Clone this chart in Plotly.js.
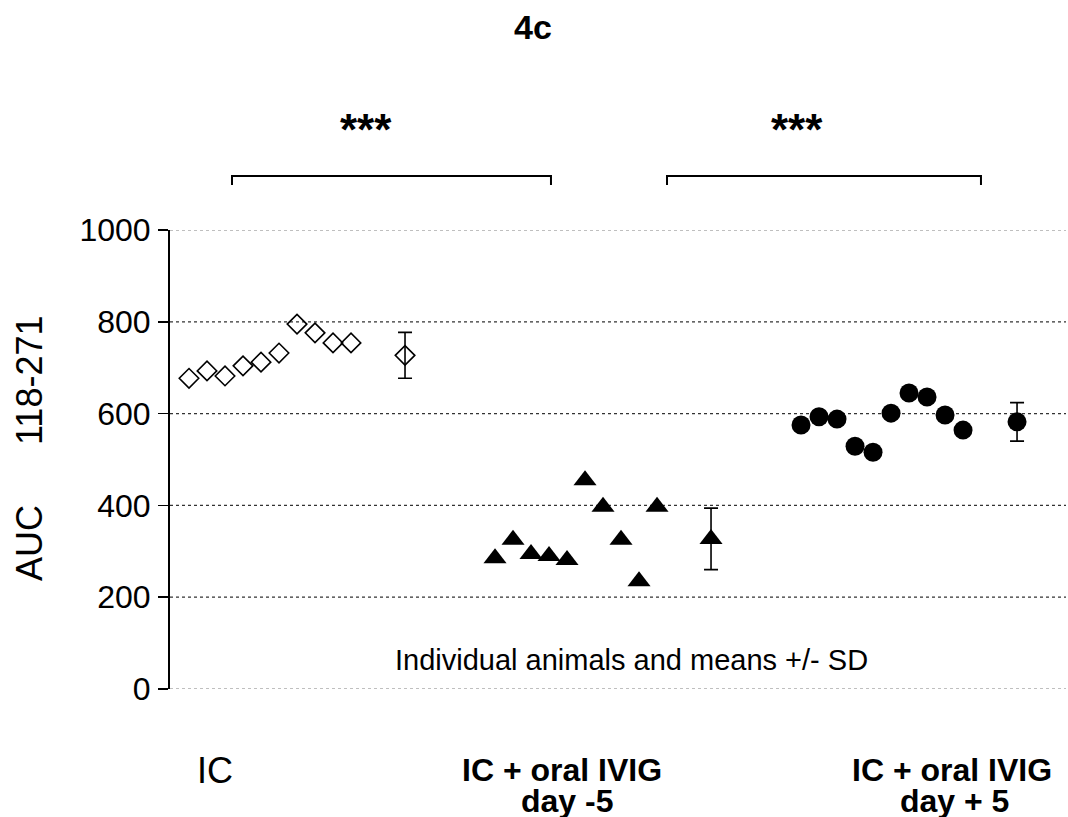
<!DOCTYPE html>
<html>
<head>
<meta charset="utf-8">
<script src="https://cdn.plot.ly/plotly-3.0.1.min.js"></script>
<style>html,body{margin:0;padding:0;background:#fff;}#chart{width:1068px;height:817px;}</style>
</head>
<body>
<div id="chart"></div>
<script>
// ---- data ----
const groups = ["IC", "IC + oral IVIG day -5", "IC + oral IVIG day + 5"];
const icValues      = [677, 693, 682, 704, 712, 732, 795, 776, 754, 754];
const dayMinus5     = [285, 325, 294, 290, 281, 455, 397, 325, 235, 397];
const dayPlus5      = [575, 593, 588, 529, 516, 601, 645, 636, 597, 564];
const groupMeans    = [727, 327, 582];
const groupSD       = [50, 67, 42];
const yTickVals     = [0, 200, 400, 600, 800, 1000];
const yTickText     = ["0", "200", "400", "600", "800", "1000"];

// ---- layout helpers ----
const GROUP_STEP = 17;   // slots between group starts
const MEAN_OFFSET = 12;  // slot of the mean marker in a group
const series = [icValues, dayMinus5, dayPlus5];
const symbols = ["diamond-open", "triangle-up", "circle"];
const sizes = [15, 20, 19];

const traces = [];
series.forEach((vals, g) => {
  const xs = vals.map((v, j) => g * GROUP_STEP + j);
  traces.push({
    type: "scatter", mode: "markers", name: groups[g],
    x: xs, y: vals, cliponaxis: false,
    marker: {symbol: symbols[g], size: sizes[g], color: "#000",
             line: {color: "#000", width: g === 0 ? 1.6 : 0}}
  });
  traces.push({
    type: "scatter", mode: "markers", name: groups[g] + " mean",
    x: [g * GROUP_STEP + MEAN_OFFSET], y: [groupMeans[g]], cliponaxis: false,
    marker: {symbol: symbols[g], size: sizes[g], color: "#000",
             line: {color: "#000", width: g === 0 ? 1.6 : 0}},
    error_y: {type: "data", array: [groupSD[g]], visible: true, color: "#000",
              thickness: 1.6, width: 7}
  });
});

// gridlines as shapes (0 and 1000 lighter)
const shapes = yTickVals.map(v => ({
  type: "line", xref: "paper", yref: "y", x0: 0, x1: 1, y0: v, y1: v,
  layer: "below",
  line: {color: (v === 0 || v === 1000) ? "#aaa" : "#333", width: 1.3, dash: "dot"}
}));
// significance brackets
const brackets = [[0.0692, 0.4252], [0.5547, 0.9051]];
brackets.forEach(([a, b]) => {
  shapes.push({type: "path", xref: "paper", yref: "paper",
    path: `M${a},1.098 L${a},1.1176 L${b},1.1176 L${b},1.098`,
    line: {color: "#000", width: 2}});
});

const sans = "Liberation Sans, Arial, sans-serif";

const annotations = [
  {text: "***", x: 0.2188, y: 1.218},
  {text: "***", x: 0.7000, y: 1.218},
].map(a => Object.assign({xref: "paper", yref: "paper", showarrow: false,
  xanchor: "center", yanchor: "middle",
  font: {family: sans, size: 44, color: "#000", weight: "bold"}}, a));

annotations.push({xref: "paper", yref: "paper", x: 0.5156, y: 0.0632,
  text: "Individual animals and means +/- SD", showarrow: false,
  xanchor: "center", yanchor: "middle",
  font: {family: sans, size: 29, color: "#000"}});

annotations.push({xref: "paper", yref: "paper", x: -0.1574, y: 0.525,
  text: "AUC\u00a0\u00a0\u00a0\u00a0\u00a0\u00a0118-271", textangle: -90, showarrow: false,
  xanchor: "center", yanchor: "middle",
  font: {family: sans, size: 36, color: "#000"}});

const catLabels = [
  {text: "IC", x: 0.0502, y: -0.1765, bold: false},
  {text: "IC + oral IVIG", x: 0.4375, y: -0.1765, bold: true},
  {text: "day -5", x: 0.443, y: -0.2440, bold: true},
  {text: "IC + oral IVIG", x: 0.8728, y: -0.1765, bold: true},
  {text: "day + 5", x: 0.876, y: -0.2440, bold: true}
];
catLabels.forEach(c => annotations.push({xref: "paper", yref: "paper",
  x: c.x, y: c.y, text: c.text, showarrow: false, xanchor: "center", yanchor: "middle",
  font: {family: sans, size: c.bold ? 32 : 36, color: "#000", weight: c.bold ? "bold" : "normal"}}));

const layout = {
  width: 1068, height: 817,
  margin: {l: 170, r: 2, t: 230, b: 128},
  paper_bgcolor: "#fff", plot_bgcolor: "#fff",
  showlegend: false,
  title: {text: "4c", x: 0.499, xanchor: "center", y: 0.967, yanchor: "middle",
          font: {family: sans, size: 34, color: "#000", weight: "bold"}},
  xaxis: {range: [-1.056, 48.72], showgrid: false, zeroline: false,
          showline: false, showticklabels: false, ticks: ""},
  yaxis: {range: [0, 1000], tickvals: yTickVals, ticktext: yTickText,
          showgrid: false, zeroline: false, showline: true, linecolor: "#000",
          linewidth: 2, ticks: "outside", ticklen: 10, tickwidth: 1.5, tickcolor: "#000",
          ticklabelstandoff: 1,
          tickfont: {family: sans, size: 32, color: "#000"}},
  shapes: shapes,
  annotations: annotations
};

Plotly.newPlot("chart", traces, layout, {displayModeBar: false, staticPlot: true});
</script>
</body>
</html>
